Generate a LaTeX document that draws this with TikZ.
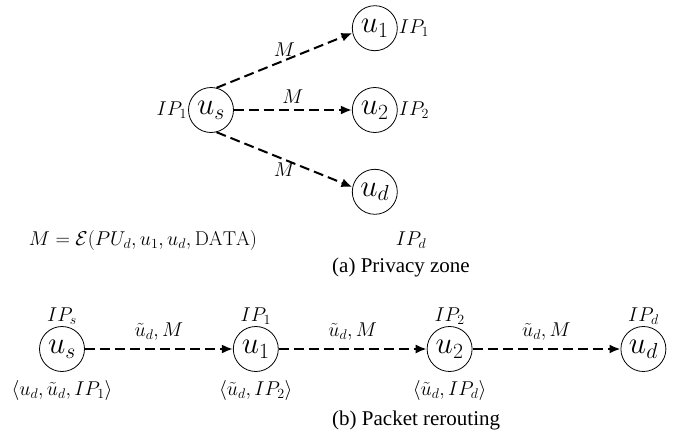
\RequirePackage{fix-cm}
\documentclass[tikz,border=0pt]{standalone}
\usepackage{fontspec}
\newfontfamily\capfont{Liberation Serif}
\usepackage{tikz}
\usetikzlibrary{arrows.meta, positioning}
\tikzset{
    usernode/.style={circle, draw, line width=0.8pt, minimum size=45pt, inner sep=0pt, font=\fontsize{31}{33}\selectfont},
    iplabel/.style={font=\fontsize{20}{22}\selectfont, inner sep=1pt},
    tuple/.style={font=\fontsize{20}{22}\selectfont, inner sep=1pt, label distance=7pt},
    msg/.style={font=\fontsize{20}{22}\selectfont, inner sep=2.5pt},
    caption/.style={font=\capfont\fontsize{21}{23}\selectfont, anchor=west, inner sep=0pt},
    arrow/.style={-{Latex[length=11pt, width=9pt]}, line width=2pt, dash pattern=on 10pt off 5pt}
}
\begin{document}
\begin{tikzpicture}[x=1pt, y=-1pt, node distance=36pt]
            \useasboundingbox (0,0) rectangle (680,439);
            % (a) privacy zone
            \node (us) [usernode, label={[iplabel]left:$IP_1$}] at (211,110) {$u_s$};
            \node (u2) [usernode, right=118pt of us, label={[iplabel]right:$IP_2$}] {$u_2$};
            \node (u1) [usernode, above=of u2, label={[iplabel]right:$IP_1$}] {$u_1$};
            \node (ud) [usernode, below=of u2] {$u_d$};
            \node (ipd) [iplabel] at (411,240) {$IP_d$};
            \node (msgdef) [msg] at (143,240) {$M=\mathcal{E}(PU_d,u_1,u_d,\mathrm{DATA})$};
            \node (capa) [caption] at (332,267) {(a) Privacy zone};
            
            \draw[arrow] (us.76) -- node[msg, above] {$M$} (u1.192);
            \draw[arrow] (us) -- node[msg, above=3pt] {$M$} (u2);
            \draw[arrow] (us.-76) -- node[msg, below] {$M$} (ud.168);
            
            % (b) packet rerouting
            \node (rs) [usernode, label={[iplabel]above:$IP_s$}, label={[tuple]below:$\langle u_d,\tilde{u}_d,IP_1\rangle$}] at (62,349) {$u_s$};
            \node (r1) [usernode, right=148pt of rs, label={[iplabel]above:$IP_1$}, label={[tuple]below:$\langle \tilde{u}_d,IP_2\rangle$}] {$u_1$};
            \node (r2) [usernode, right=148pt of r1, label={[iplabel]above:$IP_2$}, label={[tuple]below:$\langle \tilde{u}_d,IP_d\rangle$}] {$u_2$};
            \node (rd) [usernode, right=148pt of r2, label={[iplabel]above:$IP_d$}] {$u_d$};
            \node (capb) [caption] at (332,420) {(b) Packet rerouting};
            
            \draw[arrow] (rs) -- node[msg, above=5pt] {$\tilde{u}_d,M$} (r1);
            \draw[arrow] (r1) -- node[msg, above=5pt] {$\tilde{u}_d,M$} (r2);
            \draw[arrow] (r2) -- node[msg, above=5pt] {$\tilde{u}_d,M$} (rd);
        \end{tikzpicture}
\end{document}
